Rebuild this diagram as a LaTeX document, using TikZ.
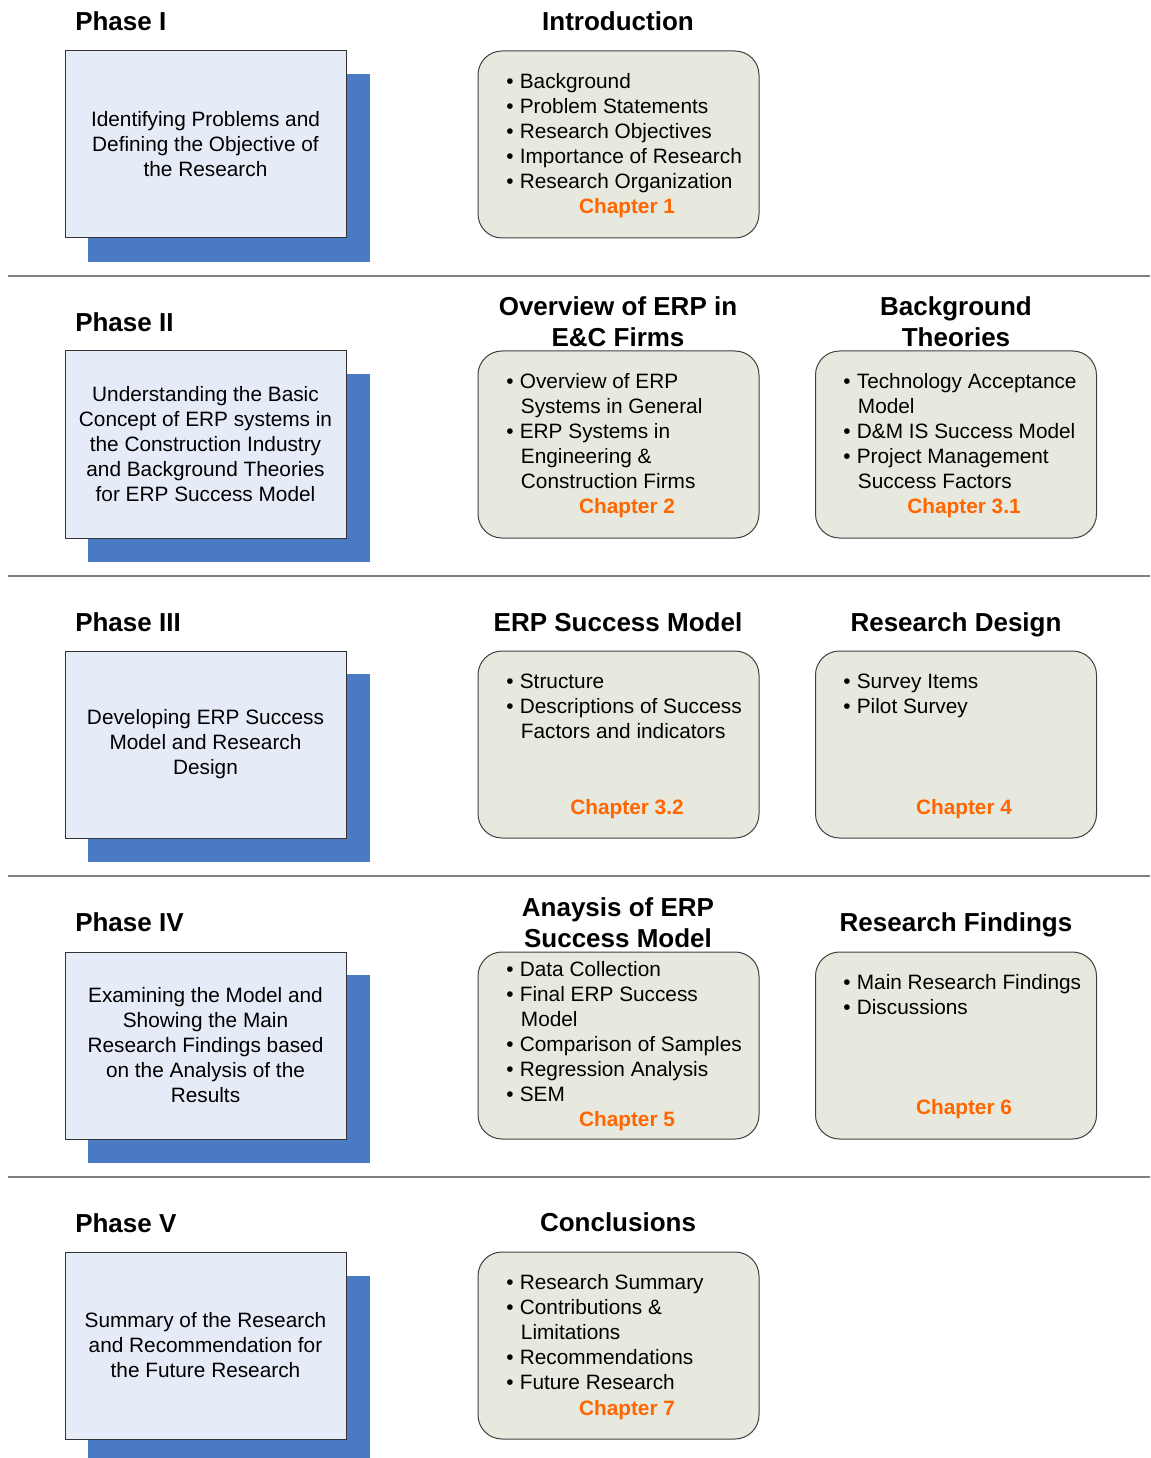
\documentclass[tikz,border=0pt]{standalone}
\usepackage{fontspec}
\setmainfont{Liberation Sans}
\definecolor{phasefill}{HTML}{E6ECF7}
\definecolor{shadowblue}{HTML}{4A7AC3}
\definecolor{boxfill}{HTML}{E8E9DE}
\definecolor{boxline}{HTML}{404040}
\definecolor{chapcol}{HTML}{FF6600}
\definecolor{sepcol}{HTML}{808080}
\newcommand\bdyfont{\fontsize{15.6pt}{18.75pt}\selectfont}
\newcommand\hdfont{\fontsize{19.5pt}{23.25pt}\selectfont\bfseries}
\newcommand\itm[1]{\makebox[10.2pt][l]{\textbullet}#1}
\newcommand\cnt[1]{\hspace{11pt}#1}
\begin{document}
\begin{tikzpicture}[x=0.75pt,y=-0.75pt,
  phasebox/.style={draw=black!80, fill=phasefill, line width=0.75pt,
    minimum width=210.75pt, minimum height=140.25pt, inner sep=0pt,
    align=center, font=\bdyfont},
  shadowbox/.style={fill=shadowblue, inner sep=0pt, minimum width=211.5pt,
    minimum height=141pt},
  chapbox/.style={draw=boxline, fill=boxfill, line width=0.75pt,
    rounded corners=18pt, minimum width=210.75pt, minimum height=140.25pt,
    inner sep=0pt},
  items/.style={anchor=north west, inner sep=0pt, align=left, font=\bdyfont},
  chapter/.style={inner sep=0pt, font=\bdyfont\bfseries, text=chapcol},
  heading/.style={inner sep=0pt, align=center, font=\hdfont},
  phaselabel/.style={anchor=west, inner sep=0pt, font=\hdfont},
  sepline/.style={draw=sepcol, line width=1.5pt}]
\useasboundingbox (0,0) rectangle (1150,1458);

% separators between the phases
\draw[sepline] (8,276) -- (1150,276);
\draw[sepline] (8,576) -- (1150,576);
\draw[sepline] (8,876) -- (1150,876);
\draw[sepline] (8,1177) -- (1150,1177);

% ---------------- Phase I ----------------
\node[phaselabel] (p1) at (75,21) {Phase I};
\node[shadowbox] (s1) at (229,168) {};
\node[phasebox] (b1) at (205.5,144.5) {Identifying Problems and\\Defining the Objective of\\the Research};
\node[heading] (h1a) at (618,21) {Introduction};
\node[chapbox] (c1a) at (618.5,144.5) {};
\node[items] (l1a) at (506,73) {\itm{Background}\\\itm{Problem Statements}\\\itm{Research Objectives}\\\itm{Importance of Research}\\\itm{Research Organization}};
\node[chapter] (ch1a) at (627,208) {Chapter 1};

% ---------------- Phase II ----------------
\node[phaselabel] (p2) at (75,322) {Phase II};
\node[shadowbox] (s2) at (229,468) {};
\node[phasebox] (b2) at (205.5,444.5) {Understanding the Basic\\Concept of ERP systems in\\the Construction Industry\\and Background Theories\\for ERP Success Model};
\node[heading] (h2a) at (618,321.5) {Overview of ERP in\\E\&C Firms};
\node[chapbox] (c2a) at (618.5,444.5) {};
\node[items] (l2a) at (506,373) {\itm{Overview of ERP}\\\cnt{Systems in General}\\\itm{ERP Systems in}\\\cnt{Engineering \&}\\\cnt{Construction Firms}};
\node[chapter] (ch2a) at (627,508) {Chapter 2};
\node[heading] (h2b) at (956,321.5) {Background\\Theories};
\node[chapbox] (c2b) at (956,444.5) {};
\node[items] (l2b) at (843,373) {\itm{Technology Acceptance}\\\cnt{Model}\\\itm{D\&M IS Success Model}\\\itm{Project Management}\\\cnt{Success Factors}};
\node[chapter] (ch2b) at (964,508) {Chapter 3.1};

% ---------------- Phase III ----------------
\node[phaselabel] (p3) at (75,622) {Phase III};
\node[shadowbox] (s3) at (229,768) {};
\node[phasebox] (b3) at (205.5,744.5) {Developing ERP Success\\Model and Research\\Design};
\node[heading] (h3a) at (618,622) {ERP Success Model};
\node[chapbox] (c3a) at (618.5,744.5) {};
\node[items] (l3a) at (506,674) {\itm{Structure}\\\itm{Descriptions of Success}\\\cnt{Factors and indicators}};
\node[chapter] (ch3a) at (627,809) {Chapter 3.2};
\node[heading] (h3b) at (956,625) {Research Design};
\node[chapbox] (c3b) at (956,744.5) {};
\node[items] (l3b) at (843,674) {\itm{Survey Items}\\\itm{Pilot Survey}};
\node[chapter] (ch3b) at (964,809) {Chapter 4};

% ---------------- Phase IV ----------------
\node[phaselabel] (p4) at (75,922) {Phase IV};
\node[shadowbox] (s4) at (229,1069) {};
\node[phasebox] (b4) at (205.5,1045.5) {Examining the Model and\\Showing the Main\\Research Findings based\\on the Analysis of the\\Results};
\node[heading] (h4a) at (618,922.5) {Anaysis of ERP\\Success Model};
\node[chapbox] (c4a) at (618.5,1045.5) {};
\node[items] (l4a) at (506,961) {\itm{Data Collection}\\\itm{Final ERP Success}\\\cnt{Model}\\\itm{Comparison of Samples}\\\itm{Regression Analysis}\\\itm{SEM}};
\node[chapter] (ch4a) at (627,1121) {Chapter 5};
\node[heading] (h4b) at (956,925) {Research Findings};
\node[chapbox] (c4b) at (956,1045.5) {};
\node[items] (l4b) at (843,974) {\itm{Main Research Findings}\\\itm{Discussions}};
\node[chapter] (ch4b) at (964,1109) {Chapter 6};

% ---------------- Phase V ----------------
\node[phaselabel] (p5) at (75,1223) {Phase V};
\node[shadowbox, minimum height=136.5pt] (s5) at (229,1367) {};
\node[phasebox] (b5) at (205.5,1345.5) {Summary of the Research\\and Recommendation for\\the Future Research};
\node[heading] (h5a) at (618,1222) {Conclusions};
\node[chapbox] (c5a) at (618.5,1345.5) {};
\node[items] (l5a) at (506,1274) {\itm{Research Summary}\\\itm{Contributions \&}\\\cnt{Limitations}\\\itm{Recommendations}\\\itm{Future Research}};
\node[chapter] (ch5a) at (627,1410) {Chapter 7};
\end{tikzpicture}
\end{document}
